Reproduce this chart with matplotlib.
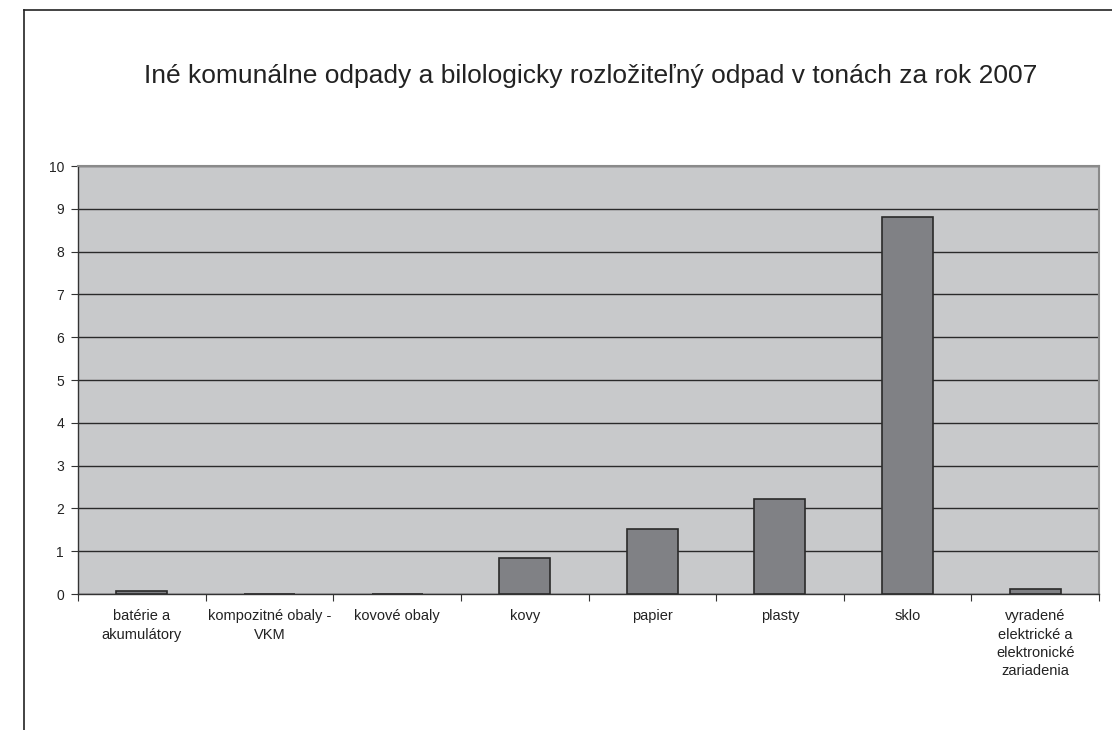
import matplotlib
matplotlib.use("Agg")
import matplotlib.pyplot as plt
from matplotlib.lines import Line2D
import numpy as np

title = "Iné komunálne odpady a bilologicky rozložiteľný odpad v tonách za rok 2007"
categories = ["batérie a\nakumulátory", "kompozitné obaly -\nVKM", "kovové obaly", "kovy",
              "papier", "plasty", "sklo",
              "vyradené\nelektrické a\nelektronické\nzariadenia"]
values = [0.06, 0.01, 0.01, 0.83, 1.53, 2.23, 8.80, 0.12]
yticks = list(range(0, 11))

plt.rcParams['font.family'] = ['Liberation Sans', 'DejaVu Sans']

fig = plt.figure(figsize=(11.12, 7.30), dpi=100)
fig.patch.set_facecolor("white")

# outer frame (left and top lines)
fig.add_artist(Line2D([24/1112, 24/1112], [0, 1 - 10/730], transform=fig.transFigure,
                      color="#222222", lw=1.2))
fig.add_artist(Line2D([24/1112, 1], [1 - 10/730, 1 - 10/730], transform=fig.transFigure,
                      color="#222222", lw=1.2))

ax = fig.add_axes([78/1112, 1 - 594/730, (1099 - 78)/1112, (594 - 166)/730])
ax.set_facecolor("#c8c9cb")

x = np.arange(len(categories))
ax.bar(x, values, width=0.4, color="#808185", edgecolor="#2a2a2a", linewidth=1.2, zorder=3)

ax.set_xlim(-0.5, len(categories) - 0.5)
ax.set_ylim(0, 10)
ax.set_yticks(yticks)
ax.set_yticklabels([str(t) for t in yticks], fontsize=10)
ax.yaxis.grid(True, color="#2a2a2a", linewidth=1.0, zorder=1)
ax.set_axisbelow(True)

ax.set_xticks(np.arange(-0.5, len(categories)), minor=False)
ax.set_xticklabels([])
ax.set_xticks(x, minor=True)
ax.set_xticklabels(categories, minor=True, fontsize=10.5, color="#222222", linespacing=1.4)
ax.tick_params(axis="x", which="minor", length=0, pad=11)
ax.tick_params(axis="x", which="major", length=5, color="#333333", direction="out")
ax.tick_params(axis="y", length=5, color="#333333", direction="out", labelcolor="#222222", pad=5)

for side in ["top", "right"]:
    ax.spines[side].set_color("#8a8a8a")
    ax.spines[side].set_linewidth(1.5)
for side in ["left", "bottom"]:
    ax.spines[side].set_color("#333333")
    ax.spines[side].set_linewidth(1.0)

fig.text(591/1112, 1 - 76/730, title, ha="center", va="center", fontsize=19, color="#222222")

fig.savefig("out.png", dpi=100, facecolor="white")
